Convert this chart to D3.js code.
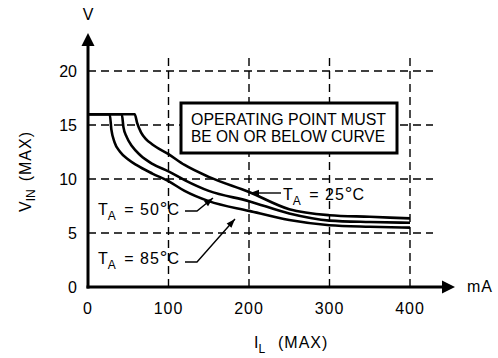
<!DOCTYPE html>
<html>
<head>
<meta charset="utf-8">
<script src="https://cdn.jsdelivr.net/npm/d3@7"></script>
<style>
  body { margin: 0; background: #fff; }
  svg { display: block; font-family: "Liberation Sans", Arial, sans-serif; }
</style>
</head>
<body>
<svg width="498" height="358"></svg>
<script>
// curve data (mA, V)
const t25 = [[0,16],[58,16],[61,15.2],[66,14.3],[72,13.7],[80,13.2],[100,12.3],[120,11.3],[150,10.2],[200,8.8],[250,7.2],[300,6.65],[350,6.5],[400,6.35]];
const t50 = [[0,16],[42,16],[44,14.8],[48,13.9],[55,13],[65,12.2],[80,11.4],[100,10.7],[120,9.9],[150,8.9],[200,7.95],[250,6.8],[300,6.15],[350,6.02],[400,5.95]];
const t85 = [[0,16],[27,16],[29,14.6],[33,13.4],[40,12.5],[50,11.8],[60,11.3],[80,10.5],[100,9.8],[120,8.9],[150,7.95],[200,7.05],[250,6.2],[300,5.72],[350,5.58],[400,5.5]];
const xTicks = [0, 100, 200, 300, 400];
const yTicks = [0, 5, 10, 15, 20];
const note = ['OPERATING POINT MUST', 'BE ON OR BELOW CURVE'];

const svg = d3.select('svg');

// scales: x 0..400 mA, y 0..20 V
x = d3.scaleLinear().domain([0, 400]).range([88, 410]);
y = d3.scaleLinear().domain([0, 20]).range([287, 71]);

//dashed grid
svg.append('g')
  .selectAll('line')
  .data(yTicks.slice(1))
  .enter()
  .append('line')
  .attr('x1', x(0)).attr('x2', 433)
  .attr('y1', d => y(d)).attr('y2', d => y(d))
  .attr('stroke', '#000').attr('stroke-width', 1.4)
  .attr('stroke-dasharray', '8,5');

svg.append('g')
  .selectAll('line')
  .data(xTicks.slice(1))
  .enter()
  .append('line')
  .attr('x1', d => x(d)).attr('x2', d => x(d))
  .attr('y1', y(0)).attr('y2', 55)
  .attr('stroke', '#000').attr('stroke-width', 1.4)
  .attr('stroke-dasharray', '8,5');

//axes with arrows
svg.append('line')
  .attr('x1', x(0)).attr('x2', x(0))
  .attr('y1', y(0) + 1.5).attr('y2', 44)
  .attr('stroke', '#000').attr('stroke-width', 3);
svg.append('path')
  .attr('d', 'M' + (x(0) - 6.5) + ',46 L' + x(0) + ',33 L' + (x(0) + 6.5) + ',46 Z')
  .attr('fill', '#000');
svg.append('line')
  .attr('x1', x(0) - 1.5).attr('x2', 444)
  .attr('y1', y(0)).attr('y2', y(0))
  .attr('stroke', '#000').attr('stroke-width', 3);
svg.append('path')
  .attr('d', 'M442,' + (y(0) - 6.5) + ' L455,' + y(0) + ' L442,' + (y(0) + 6.5) + ' Z')
  .attr('fill', '#000');

//tick labels
svg.append('g')
  .selectAll('text')
  .data(yTicks)
  .enter()
  .append('text')
  .attr('x', 77)
  .attr('y', d => y(d) + 6)
  .attr('text-anchor', 'end')
  .style('font-size', '16px')
  .text(d => d);

svg.append('g')
  .selectAll('text')
  .data(xTicks)
  .enter()
  .append('text')
  .attr('x', d => x(d))
  .attr('y', 314)
  .attr('text-anchor', 'middle')
  .style('font-size', '16px')
  .attr('letter-spacing', 1)
  .text(d => d);

// units
svg.append('text').attr('x', 88).attr('y', 20).attr('text-anchor', 'middle')
  .style('font-size', '16px').text('V');
svg.append('text').attr('x', 467).attr('y', 292)
  .style('font-size', '16px').attr('letter-spacing', 1).text('mA');

// x title
const xt = svg.append('text').attr('x', 254).attr('y', 348).style('font-size', '16px');
xt.append('tspan').text('I');
xt.append('tspan').attr('dy', 5).style('font-size', '12px').text('L');
xt.append('tspan').attr('x', 278).attr('dy', -5).attr('letter-spacing', 1).text('(MAX)');

// y title
const yt = svg.append('text')
  .attr('transform', 'translate(31,212) rotate(-90)')
  .style('font-size', '16px');
yt.append('tspan').text('V');
yt.append('tspan').attr('dy', 4).style('font-size', '12px').text('IN');
yt.append('tspan').attr('dx', 8).attr('dy', -4).attr('letter-spacing', 1).text('(MAX)');

//curves
const line = d3.line()
  .x(d => x(d[0]))
  .y(d => y(d[1]))
  .curve(d3.curveMonotoneX);

svg.append('g')
  .selectAll('path')
  .data([t25, t50, t85])
  .enter()
  .append('path')
  .attr('d', line)
  .attr('fill', 'none')
  .attr('stroke', '#000')
  .attr('stroke-width', 2.6);

// note box
svg.append('rect')
  .attr('x', 181).attr('y', 103).attr('width', 216).attr('height', 50)
  .attr('fill', '#fff').attr('stroke', '#000').attr('stroke-width', 3);
svg.append('g')
  .selectAll('text')
  .data(note)
  .enter()
  .append('text')
  .attr('x', 191)
  .attr('y', (d, i) => 125 + i * 17)
  .attr('textLength', (d, i) => i ? 194 : 195)
  .attr('lengthAdjust', 'spacingAndGlyphs')
  .style('font-size', '16px')
  .text(d => d);

// labels with leader arrows
function label(tx, ty, t) {
  const g = svg.append('text').attr('x', tx).attr('y', ty).style('font-size', '16px');
  g.append('tspan').text('T');
  g.append('tspan').attr('dy', 5).style('font-size', '12px').text('A');
  g.append('tspan').attr('dx', 3).attr('dy', -5).attr('letter-spacing', 1).text(' = ' + t);
  g.append('tspan').style('font-size', '19px').text('\u00B0');
  g.append('tspan').attr('letter-spacing', 1).text('C');
}
function arrow(pts) {
  svg.append('path')
    .attr('d', d3.line()(pts))
    .attr('fill', 'none').attr('stroke', '#000').attr('stroke-width', 1.4);
  const [a, b] = pts.slice(-2);
  const ang = Math.atan2(b[1] - a[1], b[0] - a[0]);
  const L = 9, W = 3.2;
  const bx = b[0] - L * Math.cos(ang), by = b[1] - L * Math.sin(ang);
  svg.append('path')
    .attr('d', 'M' + b[0] + ',' + b[1] +
      ' L' + (bx - W * Math.sin(ang)) + ',' + (by + W * Math.cos(ang)) +
      ' L' + (bx + W * Math.sin(ang)) + ',' + (by - W * Math.cos(ang)) + ' Z')
    .attr('fill', '#000');
}

label(283, 200, 25);
arrow([[281, 193], [250, 193]]);
label(98, 215, 50);
arrow([[185, 211], [197, 211], [213, 198]]);
label(98, 264, 85);
arrow([[185, 262], [197, 262], [235, 219]]);
</script>
</body>
</html>
